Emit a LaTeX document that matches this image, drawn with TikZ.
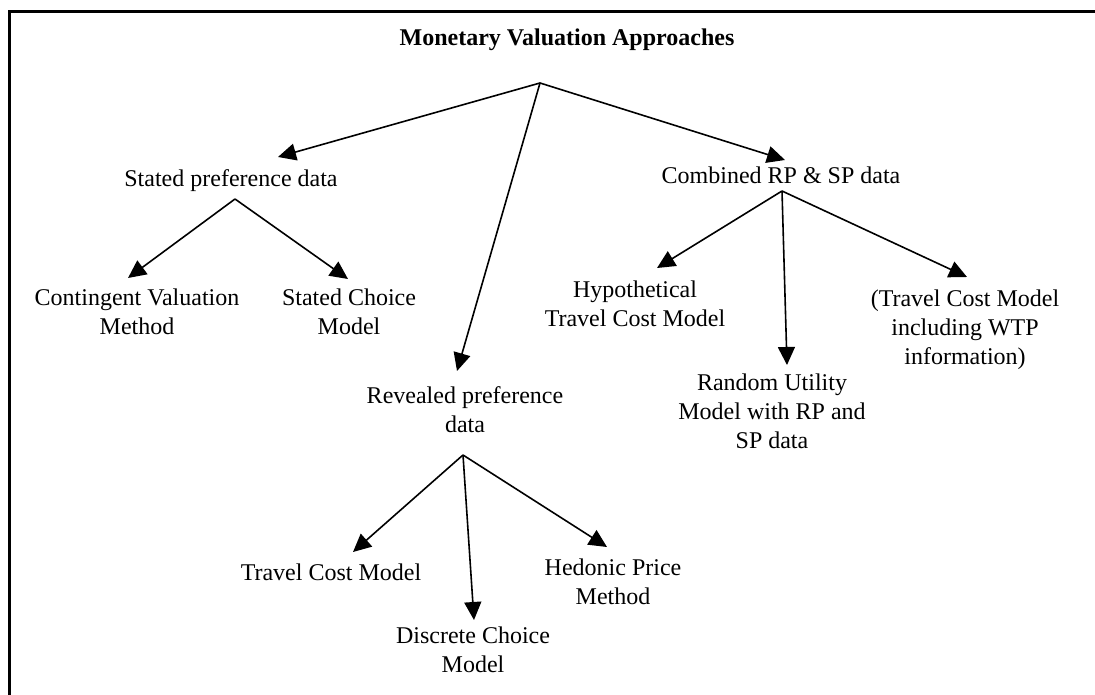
\documentclass[tikz,border=0pt]{standalone}
\usepackage{fontspec}
\setmainfont{Liberation Serif}
\usetikzlibrary{arrows.meta}
\begin{document}
\begin{tikzpicture}[x=1pt,y=-1pt,
  lbl/.style={align=center,font=\fontsize{24}{29}\selectfont,inner sep=0pt},
  ttl/.style={align=center,font=\bfseries\fontsize{24}{29}\selectfont,inner sep=0pt},
  arr/.style={line width=1.6pt,-{Triangle[length=18pt,width=17pt]}},
  frameline/.style={line width=3pt}]
\useasboundingbox (0,0) rectangle (1095,695);
\draw[frameline] (9,695) -- (9,12) -- (1095,12);

% text nodes
\node[ttl] (title) at (567,40) {Monetary Valuation Approaches};
\node[lbl] (sp) at (231,181) {Stated preference data};
\node[lbl] (cvm) at (137,312) {Contingent Valuation\\Method};
\node[lbl] (scm) at (349,312) {Stated Choice\\Model};
\node[lbl] (rp) at (465,410) {Revealed preference\\data};
\node[lbl] (comb) at (781,175) {Combined RP \& SP data};
\node[lbl] (htc) at (635,304) {Hypothetical\\Travel Cost Model};
\node[lbl] (rum) at (772,411) {Random Utility\\Model with RP and\\SP data};
\node[lbl] (tcw) at (965,330) {(Travel Cost Model\\including WTP\\information)};
\node[lbl] (tcm) at (331,572) {Travel Cost Model};
\node[lbl] (dcm) at (473,650) {Discrete Choice\\Model};
\node[lbl] (hpm) at (613,582) {Hedonic Price\\Method};

% branch points and arrow tips
\coordinate (rootA) at (540,83);
\coordinate (spA) at (235,199);
\coordinate (combA) at (782,191);
\coordinate (rpA) at (463,455);
\coordinate (spT) at (278,157);
\coordinate (rpT) at (457,371);
\coordinate (combT) at (785,160);
\coordinate (cvmT) at (128,278);
\coordinate (scmT) at (348,279);
\coordinate (htcT) at (657,268);
\coordinate (rumT) at (787,365);
\coordinate (tcwT) at (967,277);
\coordinate (tcmT) at (353,552);
\coordinate (dcmT) at (474,620);
\coordinate (hpmT) at (607,547);

\draw[arr] (rootA) -- (spT);
\draw[arr] (rootA) -- (rpT);
\draw[arr] (rootA) -- (combT);
\draw[arr] (spA) -- (cvmT);
\draw[arr] (spA) -- (scmT);
\draw[arr] (combA) -- (htcT);
\draw[arr] (combA) -- (rumT);
\draw[arr] (combA) -- (tcwT);
\draw[arr] (rpA) -- (tcmT);
\draw[arr] (rpA) -- (dcmT);
\draw[arr] (rpA) -- (hpmT);
\end{tikzpicture}
\end{document}
